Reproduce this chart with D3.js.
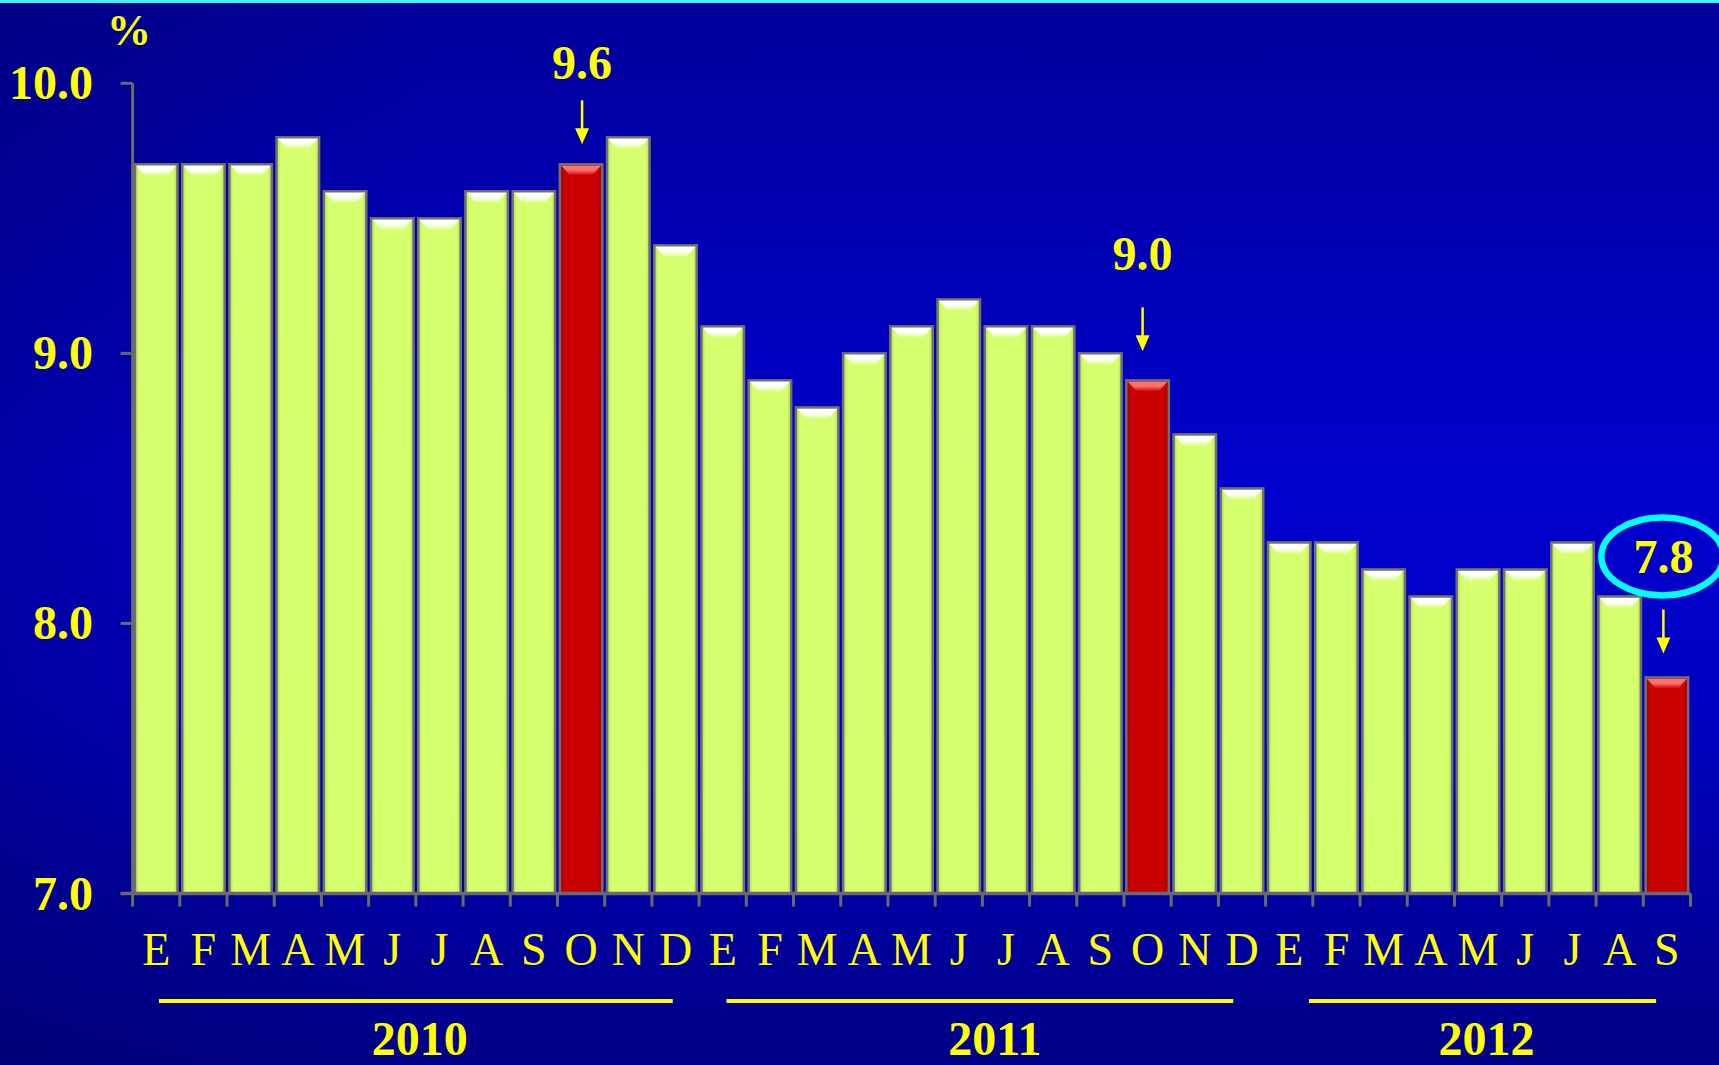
<!DOCTYPE html>
<html>
<head>
<meta charset="utf-8">
<script src="https://cdn.jsdelivr.net/npm/d3@7"></script>
<style>
  html, body { margin: 0; padding: 0; background: #0000a8; overflow: hidden; }
  svg { display: block; }
</style>
</head>
<body>
<svg id="chart" width="1719" height="1065"></svg>
<script>
// ---- data ----
const months = ["E","F","M","A","M","J","J","A","S","O","N","D",
                "E","F","M","A","M","J","J","A","S","O","N","D",
                "E","F","M","A","M","J","J","A","S"];
const values = [9.7,9.7,9.7,9.8,9.6,9.5,9.5,9.6,9.6,9.7,9.8,9.4,
                9.1,8.9,8.8,9.0,9.1,9.2,9.1,9.1,9.0,8.9,8.7,8.5,
                8.3,8.3,8.2,8.1,8.2,8.2,8.3,8.1,7.8];
const highlighted = [9, 21, 32];
const years = ["2010","2011","2012"];
const yearStart = [0, 12, 24];
const yearEnd = [11, 23, 32];
const yTicks = [7.0, 8.0, 9.0, 10.0];
const annotationIndex = [9, 21, 32];
const annotationLabel = ["9.6", "9.0", "7.8"];

// ---- layout (styling offsets) ----
const yearInsetL = [24, 25, 41];
const yearInsetR = [24, 30, 32];
const yearTextShift = [4, 15, 4];
const arrowGap = [20, 29, 24];
const textGap = [21, 37, 36];
const annoShift = [1, -5, -3.5];

const W = 1719, H = 1065;
const svg = d3.select("#chart");
const defs = svg.append("defs");

const bg = defs.append("linearGradient").attr("id","bg").attr("x1",0).attr("y1",0).attr("x2",0).attr("y2",1);
bg.append("stop").attr("offset","0%").attr("stop-color","#00009a");
bg.append("stop").attr("offset","45%").attr("stop-color","#0000cc");
bg.append("stop").attr("offset","65%").attr("stop-color","#0000c4");
bg.append("stop").attr("offset","100%").attr("stop-color","#000086");
svg.append("rect").attr("width",W).attr("height",H).attr("fill","url(#bg)");

const side = defs.append("linearGradient").attr("id","side").attr("x1",0).attr("y1",0).attr("x2",1).attr("y2",0);
side.append("stop").attr("offset","0%").attr("stop-color","#000060").attr("stop-opacity",0.35);
side.append("stop").attr("offset","25%").attr("stop-color","#000060").attr("stop-opacity",0);
side.append("stop").attr("offset","100%").attr("stop-color","#000060").attr("stop-opacity",0);
svg.append("rect").attr("width",W).attr("height",H).attr("fill","url(#side)");

svg.append("rect").attr("x",0).attr("y",0).attr("width",W).attr("height",3).attr("fill","#44f2ff");

const x = d3.scaleBand().domain(d3.range(values.length)).range([132.6, 1690.5]).paddingInner(0.1).paddingOuter(0.05);
const y = d3.scaleLinear().domain([7, 10]).range([893.5, 83.3]);

function bevel(id, top, base) {
  const g = defs.append("linearGradient").attr("id", id).attr("x1",0).attr("y1",0).attr("x2",0).attr("y2",1);
  g.append("stop").attr("offset","0%").attr("stop-color",top);
  g.append("stop").attr("offset","45%").attr("stop-color",top);
  g.append("stop").attr("offset","100%").attr("stop-color",base);
}
bevel("bevG", "#ffffff", "#e0ff88");
bevel("bevR", "#ff7070", "#d40000");
function edge(id, base, dark) {
  const g = defs.append("linearGradient").attr("id", id).attr("x1",0).attr("y1",0).attr("x2",1).attr("y2",0);
  g.append("stop").attr("offset","0%").attr("stop-color",dark);
  g.append("stop").attr("offset","10%").attr("stop-color",base);
  g.append("stop").attr("offset","90%").attr("stop-color",base);
  g.append("stop").attr("offset","100%").attr("stop-color",dark);
}
edge("fillG", "#d6ff6e", "#b8d860");
edge("fillR", "#c80000", "#a00000");

const bars = svg.append("g");
values.forEach((v, i) => {
  const red = highlighted.includes(i);
  const bx = x(i), bw = x.bandwidth(), by = y(v), bh = y(7) - y(v);
  bars.append("rect").attr("x", bx).attr("y", by).attr("width", bw).attr("height", bh)
    .attr("fill", red ? "url(#fillR)" : "url(#fillG)")
    .attr("stroke", "#707070").attr("stroke-width", 2.5);
  const ins = 10, bhgt = 11;
  bars.append("path")
    .attr("d", `M${bx+1.5},${by+1.5} L${bx+bw-1.5},${by+1.5} L${bx+bw-ins},${by+bhgt} L${bx+ins},${by+bhgt} Z`)
    .attr("fill", red ? "url(#bevR)" : "url(#bevG)");
});

// axes
const axisColor = "#6a6a6a";
const axisG = svg.append("g");
axisG.append("line").attr("x1", x.range()[0]).attr("x2", x.range()[0]).attr("y1", y(10)).attr("y2", y(7))
  .attr("stroke", axisColor).attr("stroke-width", 3);
axisG.append("line").attr("x1", x.range()[0] - 12).attr("x2", x.range()[1]).attr("y1", y(7)).attr("y2", y(7))
  .attr("stroke", axisColor).attr("stroke-width", 3.5);
yTicks.forEach(t => {
  axisG.append("line").attr("x1", x.range()[0] - 12).attr("x2", x.range()[0]).attr("y1", y(t)).attr("y2", y(t))
    .attr("stroke", axisColor).attr("stroke-width", 3);
});
const step = x.step();
d3.range(values.length + 1).forEach(k => {
  const tx = x.range()[0] + k * step;
  axisG.append("line").attr("x1", tx).attr("x2", tx).attr("y1", y(7)).attr("y2", y(7) + 13)
    .attr("stroke", axisColor).attr("stroke-width", 3);
});

const serif = "'Liberation Serif', 'Times New Roman', serif";
svg.append("g").selectAll("text").data(yTicks).join("text")
  .attr("x", 93).attr("y", d => y(d) + 16)
  .attr("text-anchor", "end")
  .attr("font-family", serif).attr("font-weight", "bold").attr("font-size", 48)
  .attr("fill", "#ffff00")
  .text(d => d.toFixed(1));

svg.append("text").attr("x", 129).attr("y", 45).attr("text-anchor","middle")
  .attr("font-family", serif).attr("font-weight","bold").attr("font-size", 44)
  .attr("fill","#ffff00").text("%");

svg.append("g").selectAll("text").data(months).join("text")
  .attr("x", (d, i) => x(i) + x.bandwidth() / 2).attr("y", 965)
  .attr("text-anchor", "middle")
  .attr("font-family", serif).attr("font-size", 46)
  .attr("fill", "#ffff00")
  .text(d => d);

years.forEach((yr, j) => {
  const x0 = x(yearStart[j]) + yearInsetL[j];
  const x1 = x(yearEnd[j]) + x.bandwidth() - yearInsetR[j];
  svg.append("line").attr("x1", x0).attr("x2", x1).attr("y1", 1001).attr("y2", 1001)
    .attr("stroke", "#ffff00").attr("stroke-width", 4);
  svg.append("text").attr("x", (x0 + x1) / 2 + yearTextShift[j]).attr("y", 1055).attr("text-anchor","middle")
    .attr("font-family", serif).attr("font-weight","bold").attr("font-size", 48)
    .attr("fill","#ffff00").text(yr);
});

annotationIndex.forEach((idx, k) => {
  const cx = x(idx) + x.bandwidth() / 2 + annoShift[k];
  const top = y(values[idx]);
  const aEnd = top - arrowGap[k], aStart = aEnd - 44;
  svg.append("line").attr("x1", cx).attr("x2", cx).attr("y1", aStart).attr("y2", aEnd - 12)
    .attr("stroke", "#ffff00").attr("stroke-width", 2.5);
  svg.append("path").attr("d", `M${cx-7},${aEnd-16} L${cx+7},${aEnd-16} L${cx},${aEnd} Z`).attr("fill", "#ffff00");
  const tb = aStart - textGap[k];
  svg.append("text").attr("x", cx).attr("y", tb).attr("text-anchor","middle")
    .attr("font-family", serif).attr("font-weight","bold").attr("font-size", 48)
    .attr("fill","#ffff00").text(annotationLabel[k]);
  if (k === annotationLabel.length - 1) {
    svg.append("ellipse").attr("cx", cx - 1).attr("cy", tb - 17).attr("rx", 61).attr("ry", 39)
      .attr("fill","none").attr("stroke","#00ffff").attr("stroke-width", 6.5);
  }
});
</script>
</body>
</html>
